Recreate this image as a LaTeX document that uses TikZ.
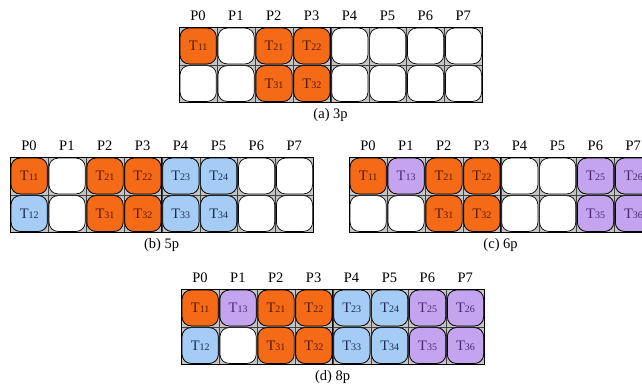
\documentclass[tikz,border=0pt]{standalone}
\usepackage{fontspec}
\setmainfont{Liberation Serif}
\definecolor{orgfill}{HTML}{F46A16}
\definecolor{orgtxt}{HTML}{5A1800}
\definecolor{bluefill}{HTML}{A4CCF4}
\definecolor{bluetxt}{HTML}{1C2D55}
\definecolor{purfill}{HTML}{C4A4EE}
\definecolor{purtxt}{HTML}{4A2870}
\definecolor{cornergray}{HTML}{C4C4C4}
\newcommand\tlab[1]{{\fontsize{14.5}{14.5}\selectfont T}{\fontsize{10}{10}\selectfont #1}}
\tikzset{
  cellbg/.style={fill=cornergray, draw=black!75, line width=0.5pt, minimum width=37.9pt, minimum height=37.5pt, inner sep=0pt, anchor=north west},
  task/.style={draw=black, line width=0.7pt, rounded corners=9pt, minimum width=36.2pt, minimum height=35.8pt, inner sep=0pt},
  empt/.style={task, fill=white},
  org/.style={task, fill=orgfill, text=orgtxt},
  blu/.style={task, fill=bluefill, text=bluetxt},
  pur/.style={task, fill=purfill, text=purtxt},
  plab/.style={font=\fontsize{14.5}{14.5}\selectfont, inner sep=0pt},
  captext/.style={font=\fontsize{14.5}{14.5}\selectfont, inner sep=0pt},
  gframe/.style={draw=black, line width=0.8pt},
}
\newcommand\panel[5]{%
  \foreach \c in {0,...,7} {
    \node[plab] (#1p\c) at (#2+\c*37.9+18.95, #3-11) {P\c};
    \foreach \r in {0,1} {
      \node[cellbg] (#1bg\c\r) at (#2+\c*37.9, #3+\r*37.5) {};
    }
  }
  \foreach \c in {0,...,7} {
    \foreach \r in {0,1} {
      \node[empt] (#1c\c\r) at (#1bg\c\r) {};
    }
  }
  \foreach \c/\r/\s/\t in {#5} {
    \node[\s] (#1t\c\r) at (#1bg\c\r) {\tlab{\t}};
  }
  \draw[gframe] (#1bg00.north west) rectangle (#1bg71.south east);
  \draw[gframe] (#1bg40.north west) -- (#1bg41.south west);
  \node[captext] (#1cap) at (#2+151.6, #3+75+13) {#4};
}
\begin{document}
\begin{tikzpicture}[x=1pt,y=-1pt]
\useasboundingbox (0,0) rectangle (642,384);
\fill[white] (0,0) rectangle (642,384);
\panel{a}{179}{27}{(a) 3p}{0/0/org/11, 2/0/org/21, 3/0/org/22, 2/1/org/31, 3/1/org/32}
\panel{b}{10}{157}{(b) 5p}{0/0/org/11, 2/0/org/21, 3/0/org/22, 2/1/org/31, 3/1/org/32, 0/1/blu/12, 4/0/blu/23, 5/0/blu/24, 4/1/blu/33, 5/1/blu/34}
\panel{c}{349}{157}{(c) 6p}{0/0/org/11, 2/0/org/21, 3/0/org/22, 2/1/org/31, 3/1/org/32, 1/0/pur/13, 6/0/pur/25, 7/0/pur/26, 6/1/pur/35, 7/1/pur/36}
\panel{d}{181}{289}{(d) 8p}{0/0/org/11, 2/0/org/21, 3/0/org/22, 2/1/org/31, 3/1/org/32, 0/1/blu/12, 4/0/blu/23, 5/0/blu/24, 4/1/blu/33, 5/1/blu/34, 1/0/pur/13, 6/0/pur/25, 7/0/pur/26, 6/1/pur/35, 7/1/pur/36}
\end{tikzpicture}
\end{document}
